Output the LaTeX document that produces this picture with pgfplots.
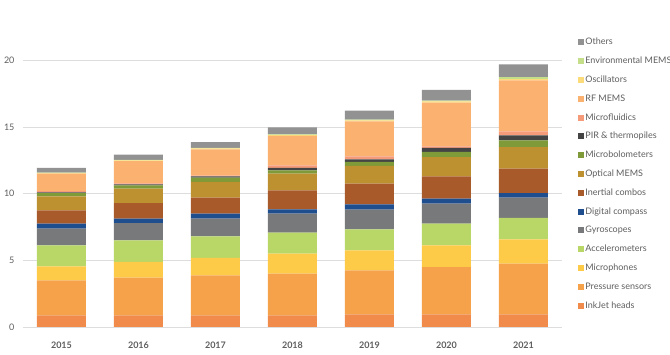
\documentclass[border=0pt]{standalone}
\usepackage{pgfplots}
\pgfplotsset{compat=1.18}
\usepackage{pgfplotstable}
\usepackage{fontspec}
\setmainfont{Lato}

% series colours
\definecolor{cOthers}{HTML}{929292}
\definecolor{cEnv}{HTML}{C4DE8A}
\definecolor{cOsc}{HTML}{FCDC7A}
\definecolor{cRF}{HTML}{FBB170}
\definecolor{cMF}{HTML}{F59B7A}
\definecolor{cPIR}{HTML}{444444}
\definecolor{cMB}{HTML}{7F9A38}
\definecolor{cOM}{HTML}{BE9130}
\definecolor{cIC}{HTML}{A95A2A}
\definecolor{cDC}{HTML}{1F4E8F}
\definecolor{cGyro}{HTML}{78797B}
\definecolor{cAcc}{HTML}{B8D766}
\definecolor{cMic}{HTML}{FDCB47}
\definecolor{cPress}{HTML}{F6A24B}
\definecolor{cInk}{HTML}{F08B4C}
\definecolor{txtgray}{HTML}{5E5E5E}
\definecolor{gridgray}{HTML}{DDDDDD}

% MEMS market by device type (B$), 2015-2021
\pgfplotstableread{
idx ink  press mic  acc  gyro dc   ic   om   mb   pir  mf   rf   osc  env  oth
0   0.88 2.62  1.05 1.58 1.25 0.37 1.00 1.05 0.25 0.05 0.10 1.30 0.05 0.03 0.35
1   0.88 2.82  1.18 1.62 1.30 0.33 1.17 1.08 0.25 0.07 0.08 1.67 0.05 0.03 0.40
2   0.88 3.00  1.30 1.62 1.33 0.37 1.20 1.18 0.32 0.10 0.05 1.98 0.07 0.03 0.43
3   0.88 3.12  1.50 1.58 1.42 0.33 1.42 1.25 0.25 0.18 0.20 2.20 0.07 0.04 0.53
4   0.95 3.30  1.50 1.58 1.47 0.40 1.55 1.33 0.30 0.20 0.22 2.63 0.07 0.05 0.68
5   0.95 3.55  1.63 1.62 1.50 0.38 1.67 1.45 0.38 0.30 0.12 3.28 0.10 0.05 0.80
6   0.95 3.80  1.83 1.60 1.52 0.35 1.83 1.62 0.50 0.38 0.30 3.82 0.10 0.15 0.95
}\datatable

\begin{document}
\begin{tikzpicture}
\path[use as bounding box] (0pt,0pt) rectangle (670pt,355pt);
\begin{axis}[
  at={(23pt,28pt)}, anchor=south west,
  scale only axis, width=539pt, height=327pt,
  xmin=-0.5, xmax=6.5, ymin=0, ymax=24.53,
  ybar stacked, bar width=49pt,
  axis line style={draw=none},
  major tick length=0pt,
  xtick={0,...,6},
  xticklabels={2015,2016,2017,2018,2019,2020,2021},
  ytick={0,5,10,15,20},
  ymajorgrids, grid style={gridgray, line width=0.8pt},
  /pgf/number format/assume math mode=true,
  yticklabel style={font=\fontsize{9}{10}\selectfont, text=txtgray, xshift=-5pt},
  xticklabel style={font=\fontsize{9}{10}\selectfont\bfseries, text=txtgray, yshift=-11pt},
  reverse legend,
  legend cell align=left,
  legend style={
    at={(1.0300,0.888)}, anchor=north west,
    draw=none, fill=none, inner sep=0pt,
    row sep=7.8pt,
    font=\fontsize{9}{11}\selectfont, text=txtgray,
    nodes={inner sep=1pt, text height=7pt, text depth=2pt},
  },
  legend image code/.code={\fill[#1] (0pt,-3pt) rectangle (6pt,3pt);},
]
\addplot[fill=cInk, draw=none] table[x=idx, y=ink] {\datatable};
\addlegendentry{InkJet heads}
\addplot[fill=cPress, draw=none] table[x=idx, y=press] {\datatable};
\addlegendentry{Pressure sensors}
\addplot[fill=cMic, draw=none] table[x=idx, y=mic] {\datatable};
\addlegendentry{Microphones}
\addplot[fill=cAcc, draw=none] table[x=idx, y=acc] {\datatable};
\addlegendentry{Accelerometers}
\addplot[fill=cGyro, draw=none] table[x=idx, y=gyro] {\datatable};
\addlegendentry{Gyroscopes}
\addplot[fill=cDC, draw=none] table[x=idx, y=dc] {\datatable};
\addlegendentry{Digital compass}
\addplot[fill=cIC, draw=none] table[x=idx, y=ic] {\datatable};
\addlegendentry{Inertial combos}
\addplot[fill=cOM, draw=none] table[x=idx, y=om] {\datatable};
\addlegendentry{Optical MEMS}
\addplot[fill=cMB, draw=none] table[x=idx, y=mb] {\datatable};
\addlegendentry{Microbolometers}
\addplot[fill=cPIR, draw=none] table[x=idx, y=pir] {\datatable};
\addlegendentry{PIR \& thermopiles}
\addplot[fill=cMF, draw=none] table[x=idx, y=mf] {\datatable};
\addlegendentry{Microfluidics}
\addplot[fill=cRF, draw=none] table[x=idx, y=rf] {\datatable};
\addlegendentry{RF MEMS}
\addplot[fill=cOsc, draw=none] table[x=idx, y=osc] {\datatable};
\addlegendentry{Oscillators}
\addplot[fill=cEnv, draw=none] table[x=idx, y=env] {\datatable};
\addlegendentry{Environmental MEMS}
\addplot[fill=cOthers, draw=none] table[x=idx, y=oth] {\datatable};
\addlegendentry{Others}
\end{axis}
\end{tikzpicture}
\end{document}
